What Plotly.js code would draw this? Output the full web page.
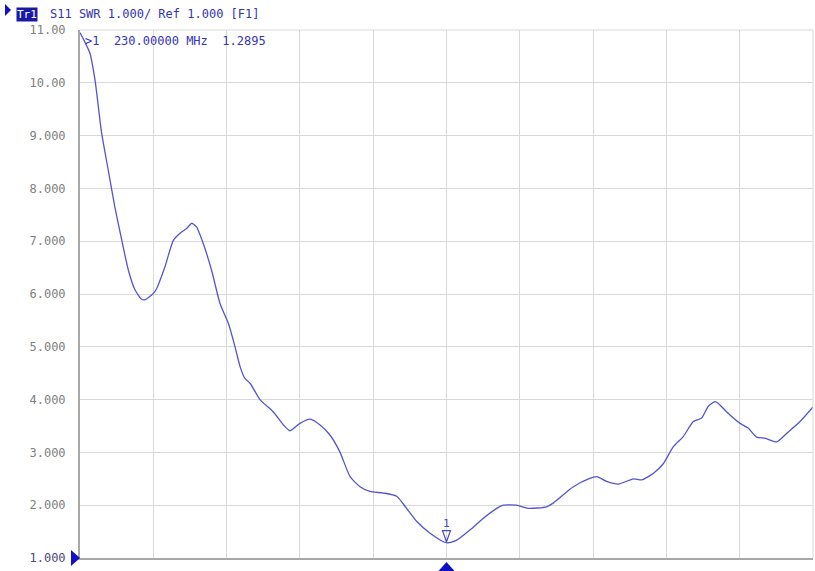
<!DOCTYPE html>
<html>
<head>
<meta charset="utf-8">
<script src="https://cdn.plot.ly/plotly-3.0.1.min.js"></script>
<style>html,body{margin:0;padding:0;background:#fff;}#chart{width:815px;height:571px;}</style>
</head>
<body>
<div id="chart"></div>
<script>
// Frequency (MHz) and SWR values
const freqMHz = [130.0,132.7,134.1,135.9,137.7,139.5,141.4,143.2,145.0,146.8,147.7,150.0,150.9,153.2,155.5,157.3,159.1,160.5,161.8,163.6,165.9,168.2,170.5,172.3,173.7,175.0,176.4,179.1,182.7,185.5,187.3,190.0,192.8,195.5,198.2,200.9,203.7,206.4,209.1,212.8,216.4,219.1,221.9,225.5,230.0,232.8,236.4,240.0,243.7,245.5,249.1,252.3,257.3,259.1,264.6,269.1,271.0,273.7,276.9,281.0,283.3,286.4,289.2,291.9,294.6,297.3,299.6,301.4,303.3,304.6,306.4,310.1,312.3,314.6,316.9,320.1,322.8,326.4,330.0];
const swr = [10.95,10.56,10.05,9.05,8.35,7.65,7.02,6.45,6.08,5.90,5.89,6.01,6.10,6.52,7.02,7.15,7.24,7.34,7.27,6.96,6.45,5.82,5.44,5.00,4.62,4.40,4.31,4.00,3.77,3.52,3.41,3.55,3.63,3.52,3.33,3.01,2.54,2.35,2.26,2.23,2.17,1.94,1.69,1.47,1.2895,1.34,1.53,1.75,1.94,2.00,2.00,1.94,1.97,2.04,2.35,2.51,2.54,2.45,2.40,2.50,2.48,2.60,2.79,3.11,3.30,3.58,3.65,3.87,3.96,3.90,3.77,3.55,3.46,3.29,3.27,3.20,3.36,3.58,3.86];
const yTickVals = [1,2,3,4,5,6,7,8,9,10,11];
const yTickText = ['<span style="color:#4a4a7a">1.000</span>','2.000','3.000','4.000','5.000','6.000','7.000','8.000','9.000','10.00','11.00'];
const markerFreq = 230.0;
const markerSwr = 1.2895;
const startMHz = 130, stopMHz = 330;

const blue = '#1010c8';
const traceColor = '#5454d2';
const mono = '"DejaVu Sans Mono", "Liberation Mono", monospace';

const data = [{
  x: freqMHz, y: swr, type: 'scatter', mode: 'lines',
  line: {color: traceColor, width: 1.3, shape: 'spline', smoothing: 0.6},
  hoverinfo: 'x+y'
}];

const layout = {
  width: 815, height: 571,
  margin: {l: 80, r: 2, t: 30, b: 13},
  paper_bgcolor: '#fff', plot_bgcolor: '#fff',
  showlegend: false,
  xaxis: {range: [startMHz, stopMHz], dtick: 20, tick0: startMHz, showticklabels: false,
          showgrid: true, gridcolor: '#d9d9d9', gridwidth: 1, zeroline: false,
          showline: true, linecolor: '#a8a8a8', linewidth: 2, ticks: ''},
  yaxis: {range: [1, 11], tickvals: yTickVals, ticktext: yTickText,
          showgrid: true, gridcolor: '#d9d9d9', gridwidth: 1, zeroline: false,
          showline: true, linecolor: '#a8a8a8', linewidth: 2, ticks: '',
          ticklabelstandoff: 10,
          tickfont: {family: mono, size: 12, color: '#808080'}},
  shapes: [
    {type:'line', xref:'paper', yref:'paper', x0:0, x1:1, y0:1, y1:1, line:{color:'#d9d9d9', width:1}},
    {type:'line', xref:'paper', yref:'paper', x0:1, x1:1, y0:0, y1:1, line:{color:'#d9d9d9', width:1}},
    // header triangle
    {type:'path', xref:'paper', yref:'paper', xsizemode:'pixel', ysizemode:'pixel',
     xanchor:-0.1023, yanchor:1.0,
     path:'M 0 26 L 6 20 L 0 14 Z', fillcolor:blue, line:{width:0}},
    // reference level triangle (left)
    {type:'path', xref:'paper', yref:'paper', xsizemode:'pixel', ysizemode:'pixel',
     xanchor:0, yanchor:0,
     path:'M -9 8 L 0 0 L -9 -8 Z', fillcolor:blue, line:{width:0}},
    // marker position triangle (bottom)
    {type:'path', xref:'x', yref:'paper', xsizemode:'pixel', ysizemode:'pixel',
     xanchor:markerFreq, yanchor:0,
     path:'M -8 -13 L 0 -4 L 8 -13 Z', fillcolor:blue, line:{width:0}},
    // marker symbol on trace (hollow down triangle)
    {type:'path', xref:'x', yref:'y', xsizemode:'pixel', ysizemode:'pixel',
     xanchor:markerFreq, yanchor:markerSwr,
     path:'M 0 1 L -4 12 L 4 12 Z', fillcolor:'rgba(0,0,0,0)', line:{color:'#4848c8', width:1.2}}
  ],
  annotations: [
    {xref:'paper', yref:'paper', x:-0.0873, y:1.0, xanchor:'left', yanchor:'bottom', yshift:8,
     text:'Tr1', showarrow:false, bgcolor:'#1a1aa0', borderpad:0,
     font:{family:mono, size:11, color:'#ffffff'}},
    {xref:'paper', yref:'paper', x:-0.0437, y:1.0, xanchor:'left', yanchor:'bottom', yshift:7,
     text:'S11 SWR 1.000/ Ref 1.000 [F1]', showarrow:false,
     font:{family:mono, size:12, color:'#3434b4'}},
    {xref:'paper', yref:'paper', x:0.004, y:1.0, xanchor:'left', yanchor:'top', yshift:-2,
     text:'>1  ' + markerFreq.toFixed(5) + ' MHz  ' + markerSwr.toFixed(4), showarrow:false,
     font:{family:mono, size:12, color:'#3434b4'}},
    {xref:'x', yref:'y', x:markerFreq, y:markerSwr, xanchor:'center', yanchor:'bottom', yshift:11,
     text:'1', showarrow:false, font:{family:mono, size:11, color:'#4848c8'}}
  ]
};

Plotly.newPlot('chart', data, layout, {displayModeBar: false, staticPlot: true});
</script>
</body>
</html>
